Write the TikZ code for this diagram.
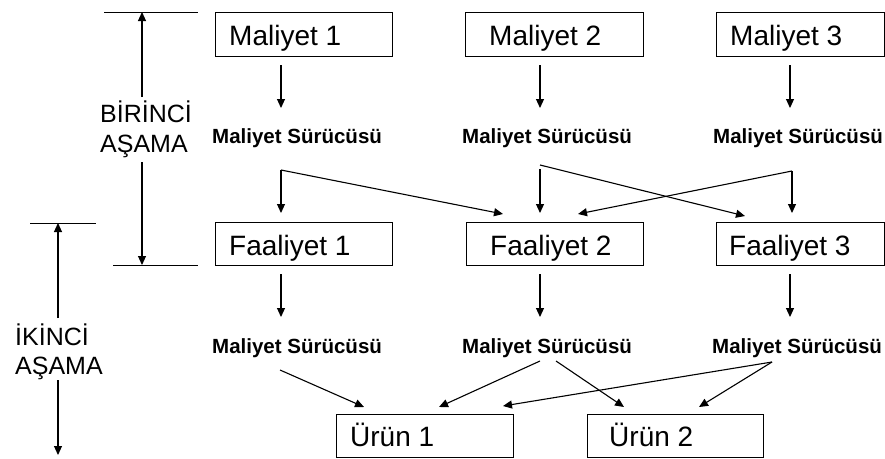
\documentclass[tikz,border=0pt]{standalone}
\usepackage{fontspec}
\setmainfont{Liberation Sans}
\usetikzlibrary{arrows.meta}
\begin{document}
\begin{tikzpicture}[x=1pt,y=-1pt,
  box/.style={draw,line width=0.9pt,inner sep=0pt},
  boxtxt/.style={anchor=base west,inner sep=0pt,font=\fontsize{28}{30}\selectfont},
  drv/.style={anchor=base west,inner sep=0pt,font=\bfseries\fontsize{20.5}{24}\selectfont},
  stage/.style={anchor=base west,inner sep=0pt,font=\fontsize{25}{30}\selectfont},
  arr/.style={line width=1.1pt,-{Triangle[width=8pt,length=9pt]}},
  ln/.style={line width=1pt}]
\useasboundingbox (0,0) rectangle (885,458);
% boxes
\node[box,minimum width=177pt,minimum height=44pt] (m1) at (303.5,34) {};
\node[box,minimum width=178pt,minimum height=44pt] (m2) at (554,34) {};
\node[box,minimum width=168pt,minimum height=44pt] (m3) at (800,34) {};
\node[box,minimum width=177pt,minimum height=43pt] (f1) at (303.5,243.5) {};
\node[box,minimum width=177pt,minimum height=43pt] (f2) at (554.5,243.5) {};
\node[box,minimum width=168pt,minimum height=43pt] (f3) at (800,243.5) {};
\node[box,minimum width=177pt,minimum height=43pt] (u1) at (424.5,435.5) {};
\node[box,minimum width=176pt,minimum height=43pt] (u2) at (675,435.5) {};
% box texts
\node[boxtxt] (tm1) at (229,45) {Maliyet 1};
\node[boxtxt] (tm2) at (489,45) {Maliyet 2};
\node[boxtxt] (tm3) at (730,45) {Maliyet 3};
\node[boxtxt] (tf1) at (229,255) {Faaliyet 1};
\node[boxtxt] (tf2) at (490,255) {Faaliyet 2};
\node[boxtxt] (tf3) at (729,255) {Faaliyet 3};
\node[boxtxt] (tu1) at (350,446) {Ürün 1};
\node[boxtxt] (tu2) at (609,446) {Ürün 2};
% drivers
\node[drv] (d1) at (212,143) {Maliyet Sürücüsü};
\node[drv] (d2) at (462,143) {Maliyet Sürücüsü};
\node[drv] (d3) at (713,143) {Maliyet Sürücüsü};
\node[drv] (d4) at (212,353) {Maliyet Sürücüsü};
\node[drv] (d5) at (462,353) {Maliyet Sürücüsü};
\node[drv] (d6) at (712,353) {Maliyet Sürücüsü};
% stage labels
\node[stage] (s1a) at (100,122) {BİRİNCİ};
\node[stage] (s1b) at (100,152) {AŞAMA};
\node[stage] (s2a) at (15,345) {İKİNCİ};
\node[stage] (s2b) at (15,374) {AŞAMA};
% coordinates
\coordinate (a1s) at (281,65);  \coordinate (a1e) at (281,108);
\coordinate (a2s) at (540,65);  \coordinate (a2e) at (540,108);
\coordinate (a3s) at (790,65);  \coordinate (a3e) at (790,108);
\coordinate (b1s) at (281,274); \coordinate (b1e) at (281,317);
\coordinate (b2s) at (540,274); \coordinate (b2e) at (540,317);
\coordinate (b3s) at (790,274); \coordinate (b3e) at (790,317);
\draw[arr] (a1s) -- (a1e);
\draw[arr] (a2s) -- (a2e);
\draw[arr] (a3s) -- (a3e);
\draw[arr] (b1s) -- (b1e);
\draw[arr] (b2s) -- (b2e);
\draw[arr] (b3s) -- (b3e);
% first stage allocation
\coordinate (p1) at (281,170);
\coordinate (p2) at (540,165);
\coordinate (p2v) at (540,169);
\coordinate (p3) at (792,171);
\draw[arr] (p1) -- (281,213);
\draw[arr] (p1) -- (503,214);
\draw[arr] (p2v) -- (540,213);
\draw[arr] (p2) -- (745,216);
\draw[arr] (p3) -- (792,213);
\draw[arr] (p3) -- (578,214);
% second stage allocation
\coordinate (q1) at (280,370);
\coordinate (q2a) at (540,361);
\coordinate (q2b) at (556,361);
\coordinate (q3) at (772,362);
\draw[arr] (q1) -- (364,407);
\draw[arr] (q2a) -- (439,407);
\draw[arr] (q2b) -- (624,407);
\draw[arr] (q3) -- (503,406);
\draw[arr] (q3) -- (699,407);
% brackets
\draw[ln] (104,12) -- (198,12);
\draw[ln] (113,265) -- (198,265);
\draw[arr] (142,97) -- (142,12);
\draw[arr] (142,162) -- (142,265);
\draw[ln] (30,223) -- (96,223);
\draw[arr] (58,318) -- (58,223);
\draw[arr] (58,380) -- (58,455);
\end{tikzpicture}
\end{document}
